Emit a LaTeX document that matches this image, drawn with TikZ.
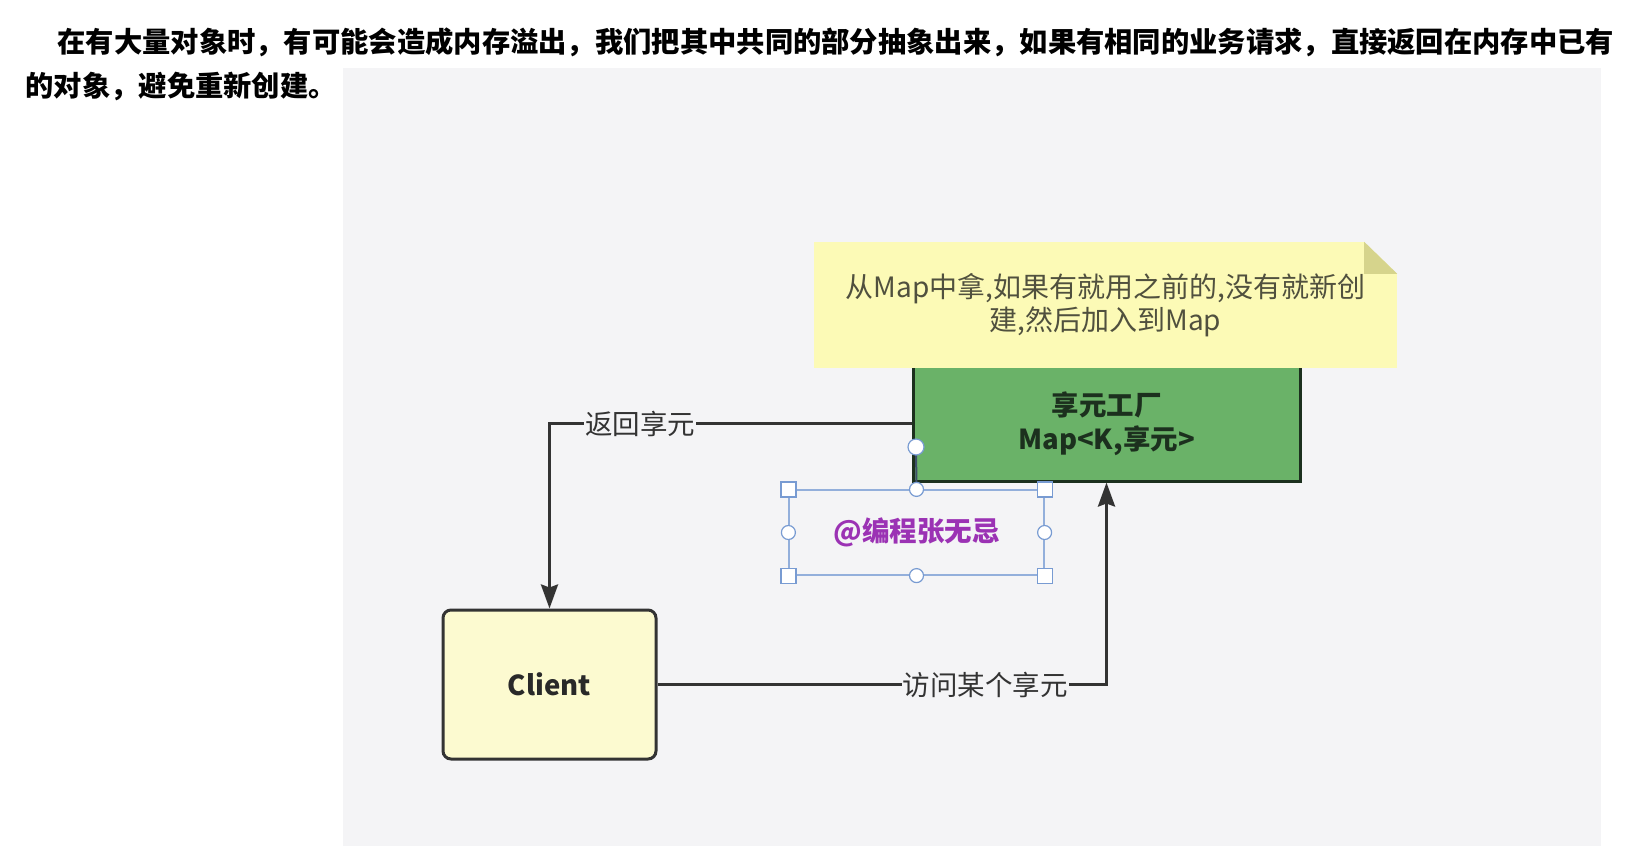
\documentclass[tikz,border=0pt]{standalone}
\usepackage{fontspec}
\setmainfont{Noto Sans CJK SC}
\usepackage{tikz}
\usetikzlibrary{arrows.meta}
\definecolor{cus-bg}{RGB}{244,244,246}
\definecolor{cus-note}{RGB}{252,250,182}
\definecolor{cus-fold}{RGB}{214,212,140}
\definecolor{cus-notetext}{RGB}{80,80,62}
\definecolor{cus-green}{RGB}{106,178,104}
\definecolor{cus-darkgreen}{RGB}{28,48,30}
\definecolor{cus-cream}{RGB}{252,250,208}
\definecolor{cus-line}{RGB}{51,51,51}
\definecolor{cus-purple}{RGB}{155,50,180}
\definecolor{cus-sel}{RGB}{120,155,210}

\begin{document}
\begin{tikzpicture}[x = 1pt, y = -1pt,
	box/.style = {line width = 3pt, align = center, font = \fontsize{27.5}{34}\selectfont\bfseries},
	link/.style = {draw = cus-line, line width = 3.2pt, -{Stealth[length = 24pt, width = 17pt, inset = 3pt]}},
	tag/.style = {fill = cus-bg, text = cus-line, inner sep = 1pt, font = \fontsize{27.5}{33}\selectfont},
	handle/.style = {draw = cus-sel, fill = white, line width = 1.2pt, inner sep = 0pt}]
\useasboundingbox [fill = white] (0 ,0) rectangle (1630 ,846);
\fill [cus-bg] (343 ,68) rectangle (1601 ,846);
\node [anchor = west, font = \fontsize{28.3}{34}\selectfont\bfseries] (head1) at (54 ,42) {在有大量对象时，有可能会造成内存溢出，我们把其中共同的部分抽象出来，如果有相同的业务请求，直接返回在内存中已有};
\node [anchor = west, font = \fontsize{28.3}{34}\selectfont\bfseries] (head2) at (22 ,86) {的对象，避免重新创建。};
\node [box, draw = cus-darkgreen, fill = cus-green, text = cus-darkgreen, minimum width = 387pt, minimum height = 115pt] (factory) at (1106.5 ,423.5) {享元工厂\\Map<K,享元>};
\node [box, draw = cus-line, fill = cus-cream, text = cus-line!80!black, rounded corners = 8pt, minimum width = 213pt, minimum height = 149pt] (client) at (549.5 ,684.5) {Client};
\node [fill = cus-note, text = cus-notetext, align = center, minimum width = 583pt, minimum height = 126pt, font = \fontsize{28}{33}\selectfont] (note) at (1105.5 ,305) {从Map中拿,如果有就用之前的,没有就新创\\建,然后加入到Map};
\fill [cus-bg] (note.north east) -- ++(-33 ,0) -- ++(33 ,32) -- cycle;
\fill [cus-fold] (note.north east) ++(-33 ,0) -- ++(33 ,32) -- ++(-33 ,0) -- cycle;
\draw [link] (factory.west) -| node [tag, pos = .375] {返回享元} (client.north);
\draw [link] (client.east) -| node [tag, pos = .365] {访问某个享元} (factory.south);
\node [draw = cus-sel!80, line width = 1.2pt, minimum width = 255pt, minimum height = 85pt, text = cus-purple, font = \fontsize{27.5}{33}\selectfont\bfseries] (mark) at (916.5 ,532.5) {@编程张无忌};
\coordinate (rot) at (916 ,447);
\draw [cus-sel!50!black, line width = 2pt] (rot) -- (mark.north);
\node [handle, circle, minimum size = 16pt] at (rot) {};
\foreach \a in {north west, north east, south west, south east}
	\node [handle, minimum size = 15pt] at (mark.\a) {};
\foreach \a in {north, south, west, east}
	\node [handle, circle, minimum size = 14pt] at (mark.\a) {};
\end{tikzpicture}
\end{document}
